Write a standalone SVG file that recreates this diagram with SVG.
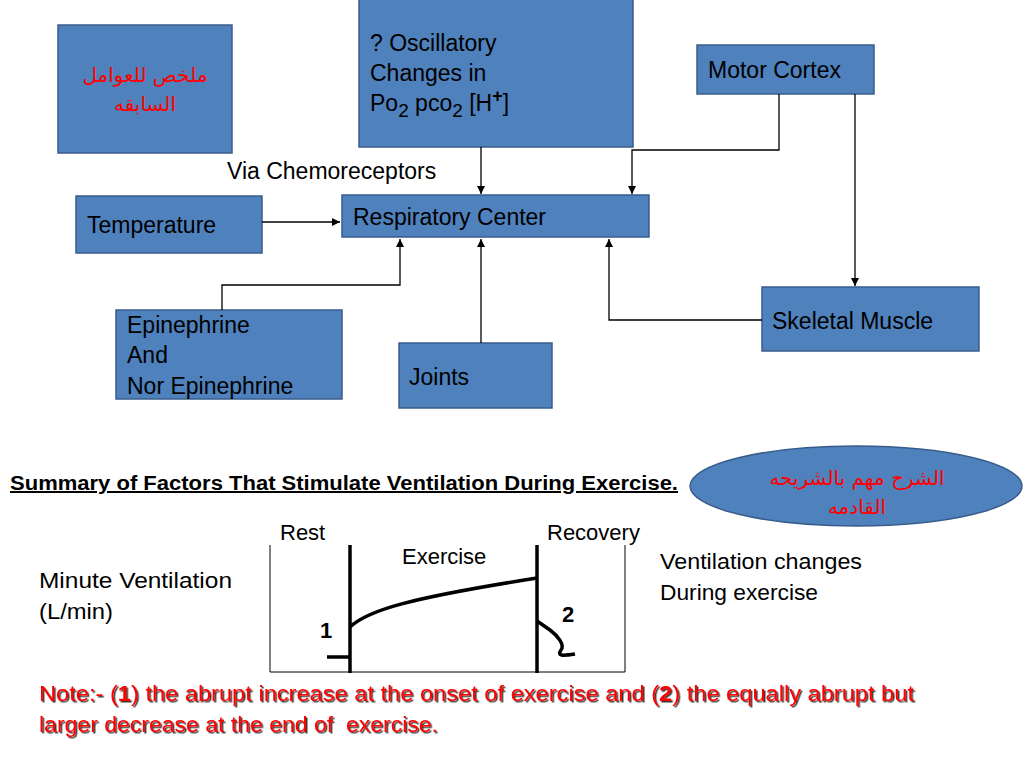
<svg xmlns="http://www.w3.org/2000/svg" width="1024" height="768" viewBox="0 0 1024 768">
<defs>
<marker id="arr" markerUnits="userSpaceOnUse" markerWidth="9" markerHeight="9" refX="8" refY="4" orient="auto">
<path d="M0,0 L8,4 L0,8 z" fill="#000"/>
</marker>
<filter id="sh" x="-5%" y="-20%" width="110%" height="150%">
<feDropShadow dx="1.5" dy="1.5" stdDeviation="0.4" flood-color="#222" flood-opacity="0.9"/>
</filter>
<style>
.box{fill:#4F81BD;stroke:#385D8A;stroke-width:1.5}
.t{font-family:"Liberation Sans",Arial,sans-serif;font-size:23px;fill:#000}
.g{font-family:"Liberation Sans",Arial,sans-serif;font-size:22px;fill:#000}
.ar{font-family:"DejaVu Sans","Noto Sans",sans-serif;font-size:20px;fill:#FF0000}
.c{fill:none;stroke:#000;stroke-width:1.3}
.thin{fill:none;stroke:#000;stroke-width:1}
.thick{fill:none;stroke:#000;stroke-width:3.5}
</style>
</defs>
<rect width="1024" height="768" fill="#fff"/>

<g id="summary-ar">
<rect class="box" x="58" y="25" width="174" height="128"/>
<text class="ar" x="145" y="82" text-anchor="middle">ملخص للعوامل</text>
<text class="ar" x="145" y="111" text-anchor="middle">السابقه</text>
</g>

<g id="oscillatory">
<rect class="box" x="359" y="-2" width="274" height="149"/>
<text class="t" x="370" y="51">? Oscillatory</text>
<text class="t" x="370" y="81">Changes in</text>
<text class="t" x="370" y="111">Po<tspan font-size="19" dy="6">2</tspan><tspan dy="-6"> pco</tspan><tspan font-size="19" dy="6">2</tspan><tspan dy="-6"> [H</tspan><tspan font-size="18" font-weight="bold" dy="-9">+</tspan><tspan dy="9">]</tspan></text>
</g>

<g id="motor-cortex">
<rect class="box" x="697" y="45" width="177" height="49"/>
<text class="t" x="708" y="78">Motor Cortex</text>
</g>

<g id="via-label">
<text class="t" x="227" y="179">Via Chemoreceptors</text>
</g>

<g id="temperature">
<rect class="box" x="76" y="196" width="186" height="57"/>
<text class="t" x="87" y="233">Temperature</text>
</g>

<g id="respiratory-center">
<rect class="box" x="342" y="195" width="307" height="42"/>
<text class="t" x="353" y="225">Respiratory Center</text>
</g>

<g id="epinephrine">
<rect class="box" x="116" y="310" width="226" height="89"/>
<text class="t" x="127" y="333">Epinephrine</text>
<text class="t" x="127" y="363">And</text>
<text class="t" x="127" y="394">Nor Epinephrine</text>
</g>

<g id="joints">
<rect class="box" x="399" y="343" width="153" height="65"/>
<text class="t" x="409" y="385">Joints</text>
</g>

<g id="skeletal-muscle">
<rect class="box" x="762" y="287" width="217" height="64"/>
<text class="t" x="772" y="329">Skeletal Muscle</text>
</g>

<g id="connectors">
<path class="c" d="M262,222 H340" marker-end="url(#arr)"/>
<path class="c" d="M481,147 V194" marker-end="url(#arr)"/>
<path class="c" d="M779,94 V150 H632 V194" marker-end="url(#arr)"/>
<path class="c" d="M855,94 V286" marker-end="url(#arr)"/>
<path class="c" d="M222,310 V285 H400 V239" marker-end="url(#arr)"/>
<path class="c" d="M481,343 V239" marker-end="url(#arr)"/>
<path class="c" d="M762,320 H609 V239" marker-end="url(#arr)"/>
</g>

<g id="title">
<text x="10" y="490" font-family="Liberation Sans,Arial,sans-serif" font-size="20" font-weight="bold" text-decoration="underline" textLength="668" lengthAdjust="spacingAndGlyphs">Summary of Factors That Stimulate Ventilation During Exercise.</text>
</g>

<g id="ellipse-note">
<ellipse cx="856" cy="486" rx="166" ry="40" fill="#4F81BD" stroke="#385D8A" stroke-width="1.5"/>
<text class="ar" x="857" y="485" text-anchor="middle">الشرح مهم بالشريحه</text>
<text class="ar" x="857" y="514" text-anchor="middle">القادمه</text>
</g>

<g id="graph">
<text class="g" x="280" y="540">Rest</text>
<text class="g" x="547" y="540">Recovery</text>
<text class="g" x="402" y="564">Exercise</text>
<text class="g" x="39" y="588" textLength="193" lengthAdjust="spacingAndGlyphs">Minute Ventilation</text>
<text class="g" x="39" y="619" textLength="74" lengthAdjust="spacingAndGlyphs">(L/min)</text>
<text class="g" x="660" y="569" textLength="202" lengthAdjust="spacingAndGlyphs">Ventilation changes</text>
<text class="g" x="660" y="600" textLength="158" lengthAdjust="spacingAndGlyphs">During exercise</text>
<path class="thin" d="M270,545 V672 H625 V545"/>
<path class="thick" d="M350,545 V673"/>
<path class="thick" d="M537,545 V673"/>
<path class="thick" d="M327,657 H350"/>
<path class="thick" d="M350,627 C368,610 410,598 537,578"/>
<path class="thick" d="M537,621 L550,630 C558,636 565,645 561,650 C557,656 562,656 575,654"/>
<text class="g" x="320" y="638" font-weight="bold">1</text>
<text class="g" x="562" y="622" font-weight="bold">2</text>
</g>

<g id="note" filter="url(#sh)">
<text x="39" y="701" font-family="Liberation Sans,Arial,sans-serif" font-size="22" fill="#FF0000" textLength="875" lengthAdjust="spacingAndGlyphs">Note:- (<tspan font-weight="bold">1</tspan>) the abrupt increase at the onset of exercise and (<tspan font-weight="bold">2</tspan>) the equally abrupt but</text>
<text x="39" y="732" font-family="Liberation Sans,Arial,sans-serif" font-size="22" fill="#FF0000" textLength="399" lengthAdjust="spacingAndGlyphs" xml:space="preserve">larger decrease at the end of  exercise.</text>
</g>
</svg>
